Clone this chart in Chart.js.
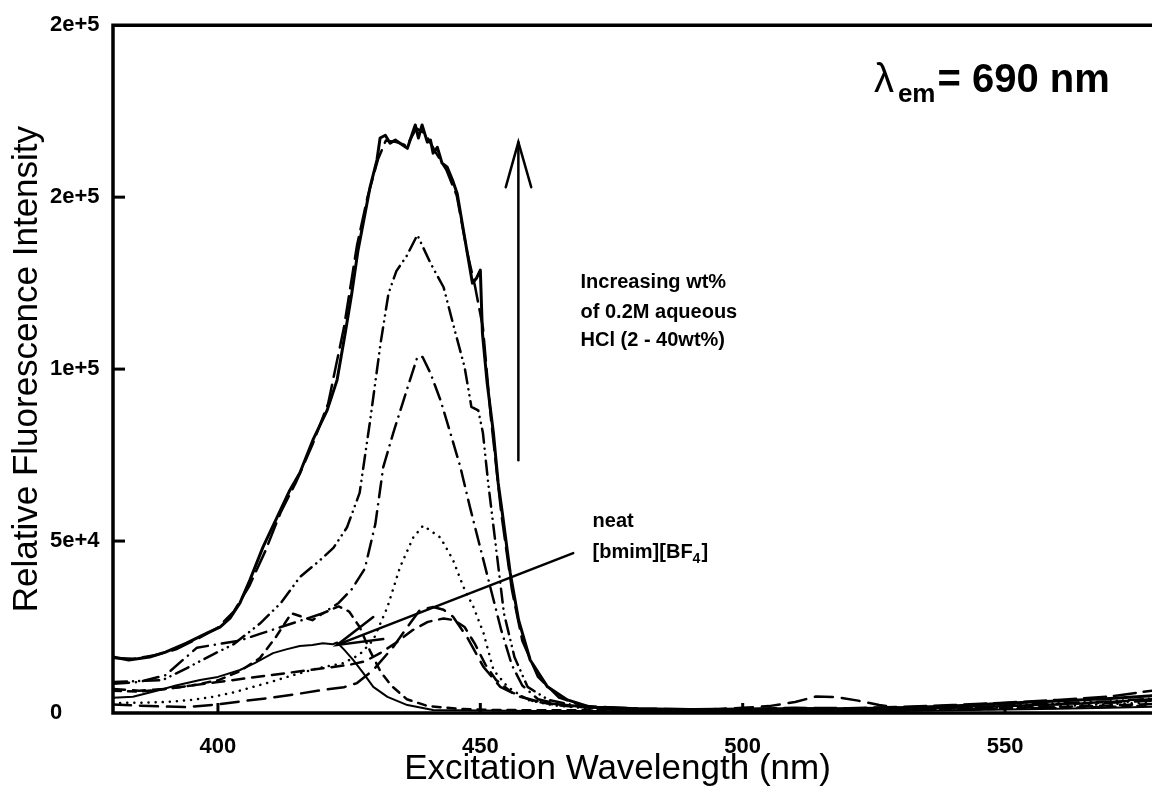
<!DOCTYPE html>
<html>
<head>
<meta charset="utf-8">
<script src="https://cdn.jsdelivr.net/npm/chart.js@4.4.1/dist/chart.umd.min.js"></script>
<style>
  html, body { margin: 0; padding: 0; background: #fff; }
  #wrap { width: 1152px; height: 793px; }
</style>
</head>
<body>
<div id="wrap"><canvas id="excChart"></canvas></div>
<script>
// axis ticks
var xTicks = [400, 450, 500, 550];
var yTicks = [0, 50000, 100000, 150000, 200000];
var yTickLabels = ['0', '5e+4', '1e+5', '2e+5', '2e+5'];

// 40 wt% (solid)
var wl40 = [380, 383, 387, 390, 394, 398, 400.4, 402.3, 404.2, 406.1, 408.6, 411.3, 413.7, 415.6, 418.1, 420.8, 422.7, 424.2, 425.5, 426.7, 428, 429, 430.3, 430.9, 431.9, 432.8, 433.8, 434.7, 436.1, 437.6, 438.2, 438.9, 439.9, 440.5, 441, 441.8, 442.7, 443.7, 444.7, 445.6, 447.1, 448.5, 449.3, 450, 450.4, 451.3, 452.5, 453.4, 454.2, 455.7, 457.3, 459.5, 462.8, 466.6, 471, 475, 480, 490, 500, 510, 520, 530, 540, 550, 560, 570, 578];
var int40 = [16300, 15400, 16300, 17700, 20300, 23300, 25000, 27600, 32000, 38700, 48300, 57000, 64800, 69800, 79400, 88000, 96800, 110000, 122000, 134600, 145000, 153000, 160800, 167200, 168000, 165700, 166600, 165700, 164200, 171000, 167200, 171000, 166000, 166600, 162800, 164500, 159900, 158700, 155000, 151000, 137500, 125000, 126500, 128800, 110500, 96000, 81400, 66900, 58100, 40700, 27000, 15400, 7600, 3800, 1700, 1500, 1200, 1000, 1000, 1300, 1200, 1500, 2000, 2800, 3500, 4200, 5000];

// 30 wt% (long dash)
var wl30 = [380, 384, 388, 392, 396, 400, 403, 406, 409, 412, 415, 418, 421, 424, 426.5, 428.5, 430.5, 432, 434, 436, 437.8, 439.5, 441.5, 443.5, 445.5, 447.5, 449, 450.5, 452, 454, 456, 458, 461, 465, 470, 475, 480, 490, 500, 510, 520, 530, 540, 550, 560, 570, 578];
var int30 = [16000, 15800, 16800, 18500, 21500, 24800, 29500, 37000, 47000, 58500, 67500, 78000, 90000, 112000, 136000, 150000, 161000, 166500, 166000, 165000, 170000, 168500, 163000, 158000, 150500, 134000, 124000, 112000, 86000, 58000, 36000, 21000, 10500, 4500, 2000, 1600, 1300, 1100, 1200, 1500, 1400, 1800, 2300, 3000, 3800, 4800, 6500];

// 20 wt% (dash-dot-dot)
var wl20 = [380, 385, 389.5, 394, 399, 403, 408, 412, 415.6, 419.5, 422, 424.6, 427, 429, 431, 432.5, 434, 436, 438, 440.5, 443, 445, 447, 448.3, 449.6, 450.5, 451.5, 453, 454.5, 456.5, 459, 463, 468, 475, 480, 490, 500, 510, 520, 530, 540, 550, 560, 570, 578];
var int20 = [9000, 9300, 9600, 13000, 17000, 20000, 26000, 32000, 39500, 44500, 48000, 54000, 64000, 85000, 107600, 122000, 128500, 133000, 139000, 130800, 123800, 112000, 100600, 89000, 88000, 81400, 66900, 48000, 29000, 16300, 7600, 3800, 2200, 1400, 1100, 900, 800, 1000, 1200, 1300, 1800, 2200, 2800, 3400, 4200];

// 10 wt% (dash-dot)
var wl10 = [380, 385, 390, 396, 400, 404, 408, 412, 416, 420, 423, 425.5, 428, 430, 431.5, 433.4, 436, 438, 439, 440.5, 442.4, 444.3, 446.2, 448, 450, 452, 454, 456, 458, 461, 465, 470, 475, 480, 490, 500, 510, 520, 530, 540, 550, 560, 570, 578];
var int10 = [8500, 9000, 11000, 19000, 20000, 21000, 23000, 25000, 27000, 29000, 32000, 36000, 42000, 55000, 71500, 81400, 94000, 103500, 103500, 98800, 91000, 81400, 71500, 60000, 48000, 36000, 24000, 14000, 8000, 4000, 2500, 1800, 1300, 1000, 800, 900, 1100, 1000, 1200, 1600, 2000, 2500, 3000, 3600];

// 5 wt% (dotted)
var wl5 = [380, 385, 390.3, 395, 399, 403, 406.7, 410, 414.3, 419, 423.9, 427, 429.6, 432.3, 434.7, 437.2, 439.1, 442.4, 444.8, 446.8, 448.7, 450.6, 452.5, 455.2, 459, 464, 470, 475, 480, 490, 500, 510, 520, 530, 540, 550, 560, 570, 578];
var int5 = [2900, 3000, 3200, 3800, 4700, 6000, 7600, 9000, 11000, 13000, 14500, 17000, 21200, 30800, 42400, 51000, 54500, 51000, 44500, 36600, 30800, 23300, 12500, 7600, 3800, 2200, 1400, 1200, 900, 700, 600, 800, 700, 900, 1200, 1600, 2000, 2600, 3000];

// 3 wt% (medium dash)
var wl3 = [380, 385, 390, 395, 400, 405, 410, 415, 420, 425, 428, 431, 434, 437, 440, 443, 445, 447, 449, 451, 453, 456, 460, 465, 470, 475, 480, 490, 500, 510, 520, 530, 540, 550, 560, 570, 578];
var int3 = [7000, 6500, 7000, 8000, 9000, 10000, 11000, 12000, 13000, 14000, 15000, 17500, 20500, 24000, 26500, 27500, 27000, 25000, 20000, 14000, 9600, 6000, 3500, 2200, 1600, 1100, 900, 600, 600, 800, 900, 1000, 1300, 1500, 1800, 2200, 2600];

// 2 wt% (long dash, low)
var wl2 = [380, 387, 394, 400, 405, 410, 415, 420, 424, 426.5, 429.6, 433.4, 436.1, 438.5, 441, 443, 444.8, 447.5, 450.6, 453.8, 457.6, 462, 468, 475, 480, 490, 500, 505, 510, 514, 518, 522, 526, 530, 540, 550, 560, 570, 578];
var int2 = [2500, 2000, 1700, 2500, 3500, 4400, 5500, 6700, 7500, 8700, 12500, 19200, 25000, 30000, 30800, 30000, 28000, 22000, 13400, 7600, 4700, 3000, 2000, 1500, 1000, 800, 1500, 2000, 3200, 4800, 4600, 3600, 2300, 1500, 1600, 2000, 2600, 3200, 4000];

// early blue-shifted band (short dash)
var wlShort = [380, 385, 390, 395, 400, 404, 408, 411, 414, 416, 418, 420, 423, 425, 427, 429, 431, 433, 436, 440, 446, 452, 460, 470, 480, 490, 500, 510, 520, 530, 540, 550, 560, 570, 578];
var intShort = [6500, 6200, 7000, 8000, 9500, 12000, 16000, 22000, 29000, 28000, 27000, 29000, 31000, 29500, 25000, 18000, 12000, 8000, 4000, 2000, 1200, 900, 800, 800, 700, 500, 500, 600, 600, 800, 1000, 1200, 1500, 1800, 2200];

// neat [bmim][BF4] (thin solid)
var wlNeat = [380, 383.8, 388.9, 392, 396.6, 400, 404.2, 407, 410.5, 413, 415.6, 418, 420, 421.9, 422.7, 424, 425.8, 427.7, 429.6, 432.3, 436.1, 441, 450, 460, 470, 480, 490, 500, 510, 520, 530, 540, 550, 560, 570, 578];
var intNeat = [4400, 4700, 6700, 8000, 9600, 10500, 12500, 14500, 17400, 18500, 19500, 19800, 20300, 20000, 20500, 18500, 15400, 11600, 7600, 4700, 2300, 900, 700, 600, 600, 500, 400, 400, 500, 500, 600, 800, 1000, 1200, 1500, 1800];

var FONT = '"Liberation Sans", Arial, Helvetica, sans-serif';
Chart.defaults.font.family = FONT;
Chart.defaults.color = '#000';

function pts(xs, ys) {
    return xs.map(function (x, i) { return {x: x, y: ys[i]}; });
}

function series(label, xs, ys, dash, width) {
    return {
        label: label,
        data: pts(xs, ys),
        borderColor: '#000',
        borderWidth: width,
        borderDash: dash,
        borderCapStyle: 'round',
        borderJoinStyle: 'round',
        pointRadius: 0,
        tension: 0,
        fill: false
    };
}

function seg(ctx, x1, y1, x2, y2) {
    ctx.beginPath();
    ctx.moveTo(x1, y1);
    ctx.lineTo(x2, y2);
    ctx.stroke();
}

var frameAndNotes = {
    id: 'frameAndNotes',
    afterDraw: function (chart) {
        var ctx = chart.ctx, a = chart.chartArea;
        var sx = chart.scales.x, sy = chart.scales.y;
        var X = function (v) { return sx.getPixelForValue(v); };
        var Y = function (v) { return sy.getPixelForValue(v); };
        ctx.save();
        ctx.strokeStyle = '#000';
        ctx.fillStyle = '#000';

        // frame: top, left, bottom (right side is cut off)
        ctx.lineWidth = 3.5;
        ctx.lineJoin = 'miter';
        ctx.beginPath();
        ctx.moveTo(a.right + 4, a.top);
        ctx.lineTo(a.left, a.top);
        ctx.lineTo(a.left, a.bottom);
        ctx.lineTo(a.right + 4, a.bottom);
        ctx.stroke();

        // inward tick marks
        ctx.lineWidth = 3;
        yTicks.forEach(function (v) {
            if (v > 0 && v < sy.max) seg(ctx, a.left, Y(v), a.left + 12, Y(v));
        });
        xTicks.forEach(function (v) {
            seg(ctx, X(v), a.bottom, X(v), a.bottom - 10);
        });

        // axis titles
        ctx.font = '35px ' + FONT;
        ctx.textAlign = 'center';
        ctx.textBaseline = 'middle';
        ctx.fillText('Excitation Wavelength (nm)', (a.left + a.right) / 2 - 15, 769);
        ctx.save();
        ctx.translate(27, (a.top + a.bottom) / 2);
        ctx.rotate(-Math.PI / 2);
        ctx.fillText('Relative Fluorescence Intensity', 0, 0);
        ctx.restore();

        // upward arrow
        ctx.lineWidth = 2.5;
        ctx.lineCap = 'round';
        seg(ctx, X(457.25), Y(73500), X(457.25), Y(166000));
        ctx.beginPath();
        ctx.moveTo(X(454.85), Y(152900));
        ctx.lineTo(X(457.25), Y(166000));
        ctx.lineTo(X(459.7), Y(152900));
        ctx.stroke();

        // arrow to the neat curve
        seg(ctx, X(467.7), Y(46500), X(422.7), Y(19800));
        ctx.beginPath();
        ctx.moveTo(X(429.6), Y(27900));
        ctx.lineTo(X(422.7), Y(19800));
        ctx.lineTo(X(431.5), Y(21500));
        ctx.stroke();

        // text notes
        ctx.textBaseline = 'alphabetic';
        ctx.textAlign = 'left';
        var noteFont = 'bold 20px ' + FONT;
        ctx.font = noteFont;
        var tx = X(469.1);
        ctx.fillText('Increasing wt%', tx, Y(123500));
        ctx.fillText('of 0.2M aqueous', tx, Y(115000));
        ctx.fillText('HCl (2 - 40wt%)', tx, Y(106700));

        var nx = X(471.4);
        ctx.fillText('neat', nx, Y(54000));
        var nb = Y(45000);
        ctx.fillText('[bmim][BF', nx, nb);
        var w1 = ctx.measureText('[bmim][BF').width;
        ctx.font = 'bold 14px ' + FONT;
        ctx.fillText('4', nx + w1, nb + 5);
        var w2 = ctx.measureText('4').width;
        ctx.font = noteFont;
        ctx.fillText(']', nx + w1 + w2 + 1, nb);

        // lambda_em = 690 nm
        var lx = X(525), lb = Y(180500);
        ctx.font = '40px ' + FONT;
        ctx.fillText('\u03bb', lx, lb);
        ctx.font = 'bold 26px ' + FONT;
        ctx.fillText('em', lx + 24, lb + 10);
        var we = ctx.measureText('em').width;
        ctx.font = 'bold 40px ' + FONT;
        ctx.fillText('= 690 nm', lx + 24 + we + 2, lb);

        ctx.restore();
    }
};

var tickFont = {size: 22, weight: 'bold'};

new Chart(document.getElementById('excChart'), {
    type: 'line',
    data: {
        datasets: [
            series('40 wt%', wl40, int40, [], 3),
            series('30 wt%', wl30, int30, [22, 8], 2.5),
            series('20 wt%', wl20, int20, [14, 6, 0.1, 6, 0.1, 6], 2.5),
            series('10 wt%', wl10, int10, [16, 7, 0.1, 7], 2.5),
            series('5 wt%', wl5, int5, [0.1, 7], 2.5),
            series('3 wt%', wl3, int3, [12, 8], 2.5),
            series('2 wt%', wl2, int2, [18, 9], 2.5),
            series('short dash', wlShort, intShort, [8, 7], 2.5),
            series('neat [bmim][BF4]', wlNeat, intNeat, [], 2)
        ]
    },
    options: {
        responsive: true,
        maintainAspectRatio: false,
        animation: false,
        layout: {padding: {top: 23, right: 0, left: 50, bottom: 0}},
        plugins: {
            legend: {display: false},
            tooltip: {enabled: false}
        },
        scales: {
            x: {
                type: 'linear',
                min: 380,
                max: 578,
                grid: {display: false},
                border: {display: false},
                afterBuildTicks: function (s) { s.ticks = xTicks.map(function (v) { return {value: v}; }); },
                afterFit: function (s) { s.height = 80; },
                ticks: {padding: 13, font: tickFont, color: '#000', maxRotation: 0, autoSkip: false}
            },
            y: {
                type: 'linear',
                min: 0,
                max: 200000,
                grid: {display: false},
                border: {display: false},
                afterBuildTicks: function (s) { s.ticks = yTicks.map(function (v) { return {value: v}; }); },
                afterFit: function (s) { s.width = 63; },
                ticks: {
                    padding: 12,
                    crossAlign: 'far',
                    font: tickFont,
                    color: '#000',
                    callback: function (v, i) { return yTickLabels[i]; }
                }
            }
        }
    },
    plugins: [frameAndNotes]
});
</script>
</body>
</html>
